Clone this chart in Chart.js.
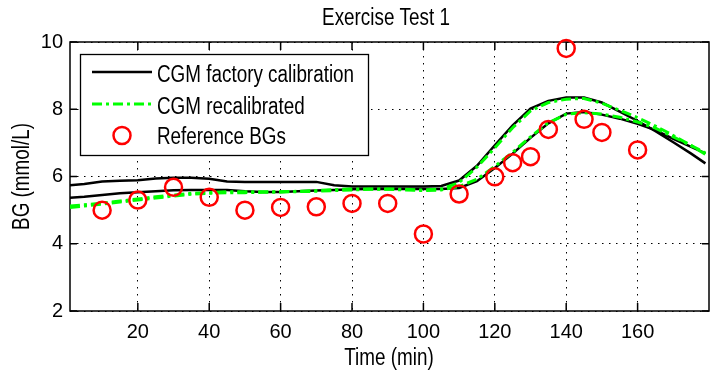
<!DOCTYPE html>
<html>
<head>
<meta charset="utf-8">
<script src="https://cdn.jsdelivr.net/npm/chart.js@4.4.1/dist/chart.umd.min.js"></script>
<style>
html, body { margin: 0; padding: 0; background: #fff; overflow: hidden; }
canvas { display: block; }
</style>
</head>
<body>
<canvas id="bg-chart" width="720" height="371"></canvas>
<script>
"use strict";

// time axis of the CGM traces (min)
var TIME = [1, 5, 10, 15, 20, 25, 30, 35, 40, 45, 50, 55, 60, 65, 70, 75, 80, 85, 90,
	95, 100, 105, 110, 115, 120, 125, 130, 135, 140, 145, 150, 155, 160, 165, 170, 175, 179];

// CGM factory calibration, sensor 1 and sensor 2 (mmol/L)
var FACTORY_A = [5.74, 5.78, 5.85, 5.87, 5.89, 5.94, 5.96, 5.96, 5.93, 5.85, 5.84, 5.84, 5.84, 5.84, 5.84, 5.74, 5.70, 5.70, 5.70,
	5.70, 5.70, 5.72, 5.88, 6.32, 6.93, 7.52, 8.02, 8.25, 8.35, 8.35, 8.20, 7.93, 7.65, 7.35, 7.02, 6.68, 6.39];
var FACTORY_B = [5.37, 5.40, 5.45, 5.50, 5.53, 5.56, 5.59, 5.60, 5.60, 5.60, 5.56, 5.54, 5.54, 5.56, 5.58, 5.60, 5.62, 5.63, 5.63,
	5.63, 5.63, 5.63, 5.66, 5.86, 6.25, 6.68, 7.15, 7.58, 7.87, 7.92, 7.84, 7.72, 7.57, 7.38, 7.12, 6.88, 6.69];

// CGM recalibrated, sensor 1 and sensor 2 (mmol/L)
var RECAL_A = [5.12, 5.16, 5.21, 5.27, 5.33, 5.40, 5.45, 5.50, 5.52, 5.55, 5.55, 5.55, 5.55, 5.56, 5.58, 5.61, 5.63, 5.63, 5.63,
	5.62, 5.60, 5.63, 5.82, 6.28, 6.85, 7.45, 7.95, 8.20, 8.30, 8.32, 8.18, 7.97, 7.75, 7.50, 7.22, 6.92, 6.66];
var RECAL_B = [5.08, 5.12, 5.18, 5.24, 5.30, 5.36, 5.42, 5.47, 5.50, 5.52, 5.52, 5.53, 5.54, 5.55, 5.56, 5.58, 5.60, 5.62, 5.62,
	5.60, 5.58, 5.60, 5.70, 5.92, 6.30, 6.72, 7.18, 7.60, 7.85, 7.90, 7.86, 7.76, 7.62, 7.44, 7.18, 6.92, 6.70];

// reference blood glucose samples
var REF_TIME = [10, 20, 30, 40, 50, 60, 70, 80, 90, 100, 110, 120, 125, 130, 135, 140, 145, 150, 160];
var REF_BG = [5.0, 5.3, 5.68, 5.38, 5.0, 5.08, 5.1, 5.2, 5.2, 4.29, 5.48, 5.99, 6.41, 6.59, 7.4, 9.81, 7.7, 7.31, 6.79];

var X_TICKS = [20, 40, 60, 80, 100, 120, 140, 160];
var Y_TICKS = [2, 4, 6, 8, 10];

var LABELS = ["CGM factory calibration", "CGM recalibrated", "Reference BGs"];

var FONT = "'Liberation Sans', Arial, sans-serif";
var TEXT_SIZE = 23;    // title, legend, axis titles (drawn narrow like the MATLAB export)
var TEXT_SQUEEZE = 0.82;

function toPoints(xs, ys) {
	return xs.map(function(x, i) {
		return { x: x, y: ys[i] };
	});
}

// text squeezed horizontally, the original font is a tall narrow one
function narrowText(ctx, text, x, y, align, rotate) {
	ctx.save();
	ctx.translate(x, y);
	if (rotate) ctx.rotate(-Math.PI / 2);
	ctx.scale(TEXT_SQUEEZE, 1);
	ctx.font = TEXT_SIZE + "px " + FONT;
	ctx.fillStyle = "#000";
	ctx.textAlign = align;
	ctx.textBaseline = "alphabetic";
	ctx.fillText(text, 0, 0);
	ctx.restore();
}

var factoryStyle = { borderColor: "#000000", borderWidth: 2.5, borderDash: [] };
var recalStyle = { borderColor: "#00ff00", borderWidth: 3, borderDash: [10, 4, 3, 4] };
var refStyle = { borderColor: "#ff0000", borderWidth: 2.5, radius: 8.5 };

function lineDataset(label, ys, style, order) {
	return {
		label: label,
		data: toPoints(TIME, ys),
		borderColor: style.borderColor,
		borderWidth: style.borderWidth,
		borderDash: style.borderDash,
		backgroundColor: "transparent",
		pointRadius: 0,
		tension: 0,
		fill: false,
		order: order
	};
}

// axes box, inside tick marks
var frameBox = {
	id: "frameBox",
	beforeDatasetsDraw: function(chart) {
		var ctx = chart.ctx;
		var a = chart.chartArea;
		var xs = chart.scales.x, ys = chart.scales.y;
		ctx.save();
		ctx.strokeStyle = "#000";
		ctx.lineWidth = 1.5;
		ctx.strokeRect(a.left, a.top, a.right - a.left, a.bottom - a.top);
		ctx.beginPath();
		X_TICKS.forEach(function(v) {
			var px = xs.getPixelForValue(v);
			ctx.moveTo(px, a.bottom); ctx.lineTo(px, a.bottom - 8);
			ctx.moveTo(px, a.top); ctx.lineTo(px, a.top + 8);
		});
		Y_TICKS.forEach(function(v) {
			var py = ys.getPixelForValue(v);
			ctx.moveTo(a.left, py); ctx.lineTo(a.left + 7, py);
			ctx.moveTo(a.right, py); ctx.lineTo(a.right - 7, py);
		});
		ctx.stroke();
		ctx.restore();
	}
};

// title, axis titles and MATLAB style legend box
var titleAndLegend = {
	id: "titleAndLegend",
	afterDraw: function(chart) {
		var ctx = chart.ctx;
		narrowText(ctx, "Exercise Test 1", 386, 25, "center", false);
		narrowText(ctx, "Time (min)", 389, 365, "center", false);
		narrowText(ctx, "BG (mmol/L)", 28.5, 176.5, "center", true);

		ctx.save();
		ctx.fillStyle = "#fff";
		ctx.fillRect(80, 54, 288, 101);
		ctx.strokeStyle = "#000";
		ctx.lineWidth = 1.3;
		ctx.strokeRect(80.5, 54.5, 288, 101);

		ctx.lineWidth = factoryStyle.borderWidth;
		ctx.strokeStyle = factoryStyle.borderColor;
		ctx.beginPath(); ctx.moveTo(92, 72); ctx.lineTo(152, 72); ctx.stroke();

		ctx.lineWidth = recalStyle.borderWidth;
		ctx.strokeStyle = recalStyle.borderColor;
		ctx.setLineDash(recalStyle.borderDash);
		ctx.beginPath(); ctx.moveTo(92, 104); ctx.lineTo(152, 104); ctx.stroke();
		ctx.setLineDash([]);

		ctx.lineWidth = refStyle.borderWidth;
		ctx.strokeStyle = refStyle.borderColor;
		ctx.beginPath(); ctx.arc(122, 135.5, refStyle.radius, 0, Math.PI * 2); ctx.stroke();
		ctx.restore();

		narrowText(ctx, LABELS[0], 157, 81.5, "left", false);
		narrowText(ctx, LABELS[1], 157, 113.5, "left", false);
		narrowText(ctx, LABELS[2], 157, 143.5, "left", false);
	}
};

Chart.defaults.color = "#000";
Chart.defaults.font.family = FONT;
Chart.defaults.font.size = 20;

var ctx = document.getElementById("bg-chart");
var bgChart = new Chart(ctx, {
	type: "line",
	data: {
		datasets: [
			{
				label: LABELS[2],
				type: "scatter",
				data: toPoints(REF_TIME, REF_BG),
				showLine: false,
				pointStyle: "circle",
				pointRadius: refStyle.radius,
				pointBorderWidth: refStyle.borderWidth,
				pointBorderColor: refStyle.borderColor,
				pointBackgroundColor: "transparent",
				clip: false,
				order: 0
			},
			lineDataset(LABELS[1], RECAL_A, recalStyle, 1),
			lineDataset(LABELS[1], RECAL_B, recalStyle, 1),
			lineDataset(LABELS[0], FACTORY_A, factoryStyle, 2),
			lineDataset(LABELS[0], FACTORY_B, factoryStyle, 2)
		]
	},
	options: {
		responsive: false,
		animation: false,
		devicePixelRatio: 1,
		layout: { padding: { top: 42, right: 3.4, left: 0, bottom: 0 } },
		plugins: {
			legend: { display: false },
			tooltip: { enabled: false },
			title: { display: false }
		},
		scales: {
			x: {
				type: "linear",
				min: 1,
				max: 180,
				afterBuildTicks: function(scale) {
					scale.ticks = X_TICKS.map(function(v) { return { value: v }; });
				},
				afterFit: function(scale) { scale.height = 60; },
				grid: { color: "#000", lineWidth: 1, drawTicks: false },
				border: { display: false, dash: [1.5, 5.5] },
				ticks: { padding: 9, maxRotation: 0, autoSkip: false }
			},
			y: {
				min: 2,
				max: 10,
				afterBuildTicks: function(scale) {
					scale.ticks = Y_TICKS.map(function(v) { return { value: v }; });
				},
				afterFit: function(scale) { scale.width = 70; },
				grid: { color: "#000", lineWidth: 1, drawTicks: false },
				border: { display: false, dash: [1.5, 5.5] },
				ticks: { padding: 7 }
			}
		}
	},
	plugins: [frameBox, titleAndLegend]
});
</script>
</body>
</html>
